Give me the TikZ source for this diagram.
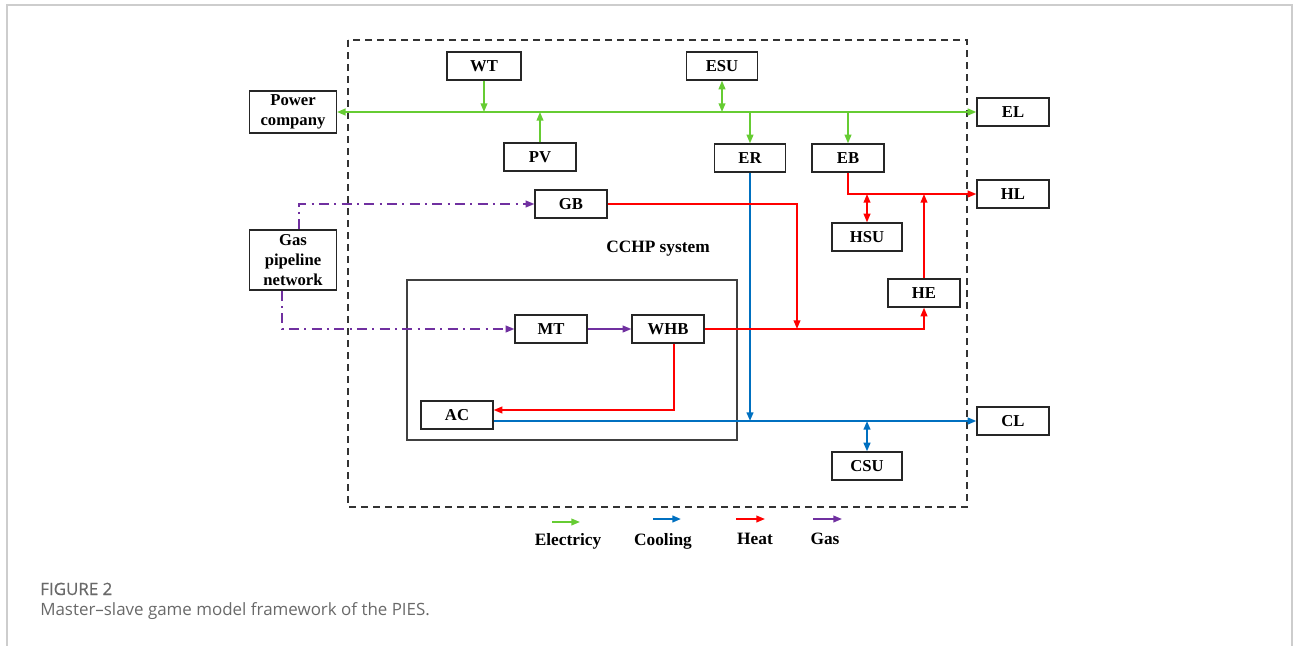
\documentclass[tikz,border=0pt]{standalone}
\usepackage{fontspec}
\setmainfont{Liberation Serif}
\newfontfamily\capfont{Open Sans}
\newfontfamily\capfontb{Open Sans}[FakeBold=0.6]
\usetikzlibrary{arrows.meta,calc}
\definecolor{elec}{RGB}{102,204,51}
\definecolor{cool}{RGB}{0,112,192}
\definecolor{heat}{RGB}{255,0,0}
\definecolor{gasc}{RGB}{112,48,160}
\definecolor{framegray}{RGB}{205,205,205}
\definecolor{capgray}{RGB}{105,105,105}
\begin{document}
\begin{tikzpicture}[x=0.75pt,y=-0.75pt,
  box/.style={draw=black!85, line width=0.9pt, fill=white, inner sep=0pt,
    minimum width=54pt, minimum height=21pt, align=center,
    font=\bfseries\fontsize{12.5}{15.5}\selectfont},
  lbl/.style={font=\bfseries\fontsize{13}{15}\selectfont, inner sep=0pt},
  tip/.style={-{Triangle[length=6.5pt,width=5pt]}},
  dtip/.style={{Triangle[length=6.5pt,width=5pt]}-{Triangle[length=6.5pt,width=5pt]}},
  eline/.style={draw=elec, line width=1.3pt},
  cline/.style={draw=cool, line width=1.5pt},
  hline/.style={draw=heat, line width=1.3pt},
  gline/.style={draw=gasc, line width=1.3pt},
  gdash/.style={draw=gasc, line width=1.3pt, dash pattern=on 7.5pt off 4pt on 1.5pt off 4pt},
  sysbox/.style={draw=black!80, line width=0.9pt, dash pattern=on 5.5pt off 3.5pt},
]
\useasboundingbox (0,0) rectangle (1293,646);
% page frame
\draw[framegray, line width=1.2pt] (7,646) -- (7,5) -- (1292,5) -- (1292,646);

% system boxes
\draw[sysbox] (348,40) rectangle (967,507);
\draw[draw=black!75, line width=0.8pt] (407,280) rectangle (737,440);
\node[lbl] (cchp) at (658,249) {CCHP system};

% nodes
\node[box, minimum width=55.5pt] (WT) at (484,66) {WT};
\node[box, minimum width=53pt] (ESU) at (722,66) {ESU};
\node[box, minimum width=65pt, minimum height=31.5pt] (PC) at (293,112) {Power\\company};
\node[box] (EL) at (1013,112) {EL};
\node[box] (PV) at (540,157) {PV};
\node[box, minimum width=53pt] (ER) at (750,158) {ER};
\node[box] (EB) at (848,158) {EB};
\node[box] (GB) at (571,204) {GB};
\node[box] (HL) at (1013,194) {HL};
\node[box, minimum width=52.5pt] (HSU) at (867,237) {HSU};
\node[box, minimum width=65pt, minimum height=45pt, font=\bfseries\fontsize{12.5}{15}\selectfont] (GAS) at (293,260) {Gas\\pipeline\\network};
\node[box] (HE) at (924,293) {HE};
\node[box] (MT) at (551,329) {MT};
\node[box] (WHB) at (668,329) {WHB};
\node[box] (AC) at (457,415) {AC};
\node[box] (CL) at (1013,421) {CL};
\node[box, minimum width=52.5pt] (CSU) at (867,466) {CSU};

% electricity
\draw[eline, dtip, line width=1.5pt] (PC.east) -- (EL.west);
\draw[eline, tip] (WT.south) -- (WT.south |- PC.east);
\draw[eline, tip] (PV.north) -- (PV.north |- PC.east);
\draw[eline, dtip] (ESU.south) -- (ESU.south |- PC.east);
\draw[eline, tip] (ER.north |- PC.east) -- (ER.north);
\draw[eline, tip] (EB.north |- PC.east) -- (EB.north);

% cooling
\coordinate (cb) at ($(AC.east)+(0,-4.5pt)$);
\draw[cline, tip] (cb) -- (cb -| CL.west);
\draw[cline, tip] (ER.south) -- (ER.south |- cb);
\draw[cline, dtip] (CSU.north) -- (CSU.north |- cb);

% heat
\draw[hline, tip] (EB.south) |- (HL.west);
\draw[hline, dtip] (HSU.north) -- (HSU.north |- HL.west);
\draw[hline, tip] (HE.north) -- (HE.north |- HL.west);
\coordinate (gbturn) at (797,204);
\draw[hline, tip] (GB.east) -- (GB.east -| gbturn) -- (gbturn |- WHB.east);
\draw[hline, tip] (WHB.east) -| (HE.south);
\coordinate (wturn) at (674,410);
\draw[hline, tip] (wturn |- WHB.south) -- (wturn) -- (wturn -| AC.east);

% gas
\draw[gline, tip] (MT.east) -- (WHB.west);
\draw[gdash, tip] ($(GAS.north)+(4.5pt,0)$) |- (GB.west);
\draw[gdash, tip] ($(GAS.south)+(-8.25pt,0)$) |- (MT.west);

% legend
\coordinate (le1) at (552,522); \coordinate (le2) at (580,522);
\coordinate (lc1) at (653,519); \coordinate (lc2) at (681,519);
\coordinate (lh1) at (736,519); \coordinate (lh2) at (765,519);
\coordinate (lg1) at (813,519); \coordinate (lg2) at (842,519);
\draw[eline, tip] (le1) -- (le2);
\draw[cline, tip] (lc1) -- (lc2);
\draw[hline, tip] (lh1) -- (lh2);
\draw[gline, tip] (lg1) -- (lg2);
\node[lbl] (lelec) at (568,541) {Electricy};
\node[lbl] (lcool) at (663,541) {Cooling};
\node[lbl] (lheat) at (755,539) {Heat};
\node[lbl] (lgas) at (825,539) {Gas};

% caption
\node[anchor=base west, inner sep=0pt, text=capgray, font=\capfontb\fontsize{12.7}{14}\selectfont] (fig) at (40,595) {FIGURE 2};
\node[anchor=base west, inner sep=0pt, text=capgray, font=\capfont\fontsize{12.7}{14}\selectfont] (cap) at (40,615) {Master–slave game model framework of the PIES.};
\end{tikzpicture}
\end{document}
